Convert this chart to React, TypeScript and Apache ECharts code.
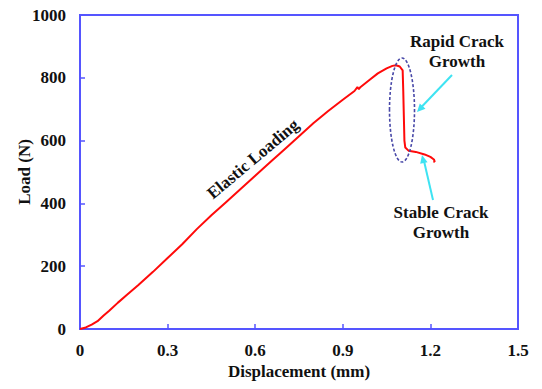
import React, { useEffect, useRef } from "react";
import * as echarts from "echarts";

// Displacement (mm) / Load (N)
const displacement = [
  0, 0.02, 0.04, 0.06, 0.08, 0.1, 0.13, 0.16, 0.2, 0.25, 0.3, 0.35, 0.4, 0.45,
  0.5, 0.55, 0.6, 0.65, 0.7, 0.75, 0.8, 0.85, 0.9, 0.94, 0.95, 0.955, 0.96,
  0.99, 1.02, 1.05, 1.07, 1.082, 1.095, 1.105, 1.107, 1.109, 1.111, 1.114,
  1.125, 1.15, 1.18, 1.2, 1.212, 1.215, 1.21,
];
const load = [
  0, 5, 14, 25, 42, 58, 84, 108, 140, 182, 226, 270, 318, 362, 404, 446, 488,
  530, 572, 614, 656, 694, 730, 758, 770, 764, 770, 792, 814, 830, 838, 840,
  836, 824, 760, 680, 600, 578, 568, 564, 556, 548, 540, 532, 534,
];

const xTicks = { min: 0, max: 1.5, interval: 0.3 };
const yTicks = { min: 0, max: 1000, interval: 200 };

const xTitle = "Displacement (mm)";
const yTitle = "Load (N)";
const elasticLabel = "Elastic Loading";
const rapidLabel = ["Rapid Crack", "Growth"];
const stableLabel = ["Stable Crack", "Growth"];

const FONT = "Liberation Serif";
const AXIS_BLUE = "#5555ff";
const CYAN = "#3ee3f2";

export default function App() {
  const ref = useRef<HTMLDivElement>(null);
  useEffect(() => {
    if (!ref.current) return;
    const chart = echarts.init(ref.current, null, { renderer: "svg" });
    const data = displacement.map((d, i) => [d, load[i]]);
    const labelStyle = {
      color: "#111",
      fontFamily: FONT,
      fontWeight: "bold" as const,
      fontSize: 17,
    };
    const txt = (text: string, x: number, y: number, extra: any = {}) => ({
      type: "text",
      x,
      y,
      z: 10,
      ...extra,
      style: {
        text,
        fontFamily: FONT,
        fontWeight: "bold",
        fontSize: 17,
        fill: "#111",
        align: "center",
        verticalAlign: "middle",
      },
    });
    chart.setOption({
      animation: false,
      backgroundColor: "#ffffff",
      textStyle: { fontFamily: FONT },
      grid: {
        left: 80,
        right: 24,
        top: 15,
        bottom: 60,
        show: true,
        borderColor: AXIS_BLUE,
        borderWidth: 2,
        backgroundColor: "transparent",
        containLabel: false,
        outerBoundsMode: "none",
      },
      xAxis: {
        type: "value",
        ...xTicks,
        name: xTitle,
        nameLocation: "middle",
        nameGap: 34,
        nameMoveOverlap: false,
        nameTextStyle: { ...labelStyle, fontSize: 17 },
        axisLine: { show: true, lineStyle: { color: AXIS_BLUE, width: 2 } },
        axisTick: { show: true, inside: true, length: 5, lineStyle: { color: AXIS_BLUE, width: 1.5 } },
        splitLine: { show: false },
        axisLabel: {
          ...labelStyle,
          margin: 13,
          formatter: (v: number) => (v === 0 ? "0" : v.toFixed(1)),
        },
      },
      yAxis: {
        type: "value",
        ...yTicks,
        name: yTitle,
        nameLocation: "middle",
        nameGap: 47,
        nameMoveOverlap: false,
        nameRotate: 90,
        nameTextStyle: { ...labelStyle, fontSize: 17 },
        axisLine: { show: true, lineStyle: { color: AXIS_BLUE, width: 2 } },
        axisTick: { show: true, inside: true, length: 5, lineStyle: { color: AXIS_BLUE, width: 1.5 } },
        splitLine: { show: false },
        axisLabel: { ...labelStyle, margin: 14, formatter: (v: number) => String(v) },
      },
      series: [
        {
          type: "line",
          data,
          showSymbol: false,
          smooth: false,
          lineStyle: { color: "#ff0a0a", width: 2 },
          z: 3,
        },
      ],
      graphic: [
        {
          type: "ellipse",
          shape: { cx: 402, cy: 110, rx: 12.5, ry: 52 },
          style: { fill: "none", stroke: "#4848a8", lineWidth: 1.6, lineDash: [3, 2] },
          z: 10,
        },
        {
          type: "line",
          shape: { x1: 452, y1: 75, x2: 421, y2: 107.5 },
          style: { stroke: CYAN, lineWidth: 2 },
          z: 10,
        },
        {
          type: "polygon",
          shape: { points: [[417, 112], [425.5, 108.8], [419.8, 103.4]] },
          style: { fill: CYAN },
          z: 10,
        },
        {
          type: "line",
          shape: { x1: 433, y1: 200, x2: 424, y2: 161 },
          style: { stroke: CYAN, lineWidth: 2 },
          z: 10,
        },
        {
          type: "polygon",
          shape: { points: [[422, 155], [427.6, 162.2], [420.2, 163.8]] },
          style: { fill: CYAN },
          z: 10,
        },
        txt(elasticLabel, 253, 159, { rotation: (40 * Math.PI) / 180 }),
        txt(rapidLabel[0], 457, 41),
        txt(rapidLabel[1], 457, 61),
        txt(stableLabel[0], 441, 212),
        txt(stableLabel[1], 441, 232),
      ],
    });
    return () => chart.dispose();
  }, []);
  return (
    <div
      ref={ref}
      style={{ position: "absolute", left: 0, top: 0, width: 542, height: 389 }}
    />
  );
}
